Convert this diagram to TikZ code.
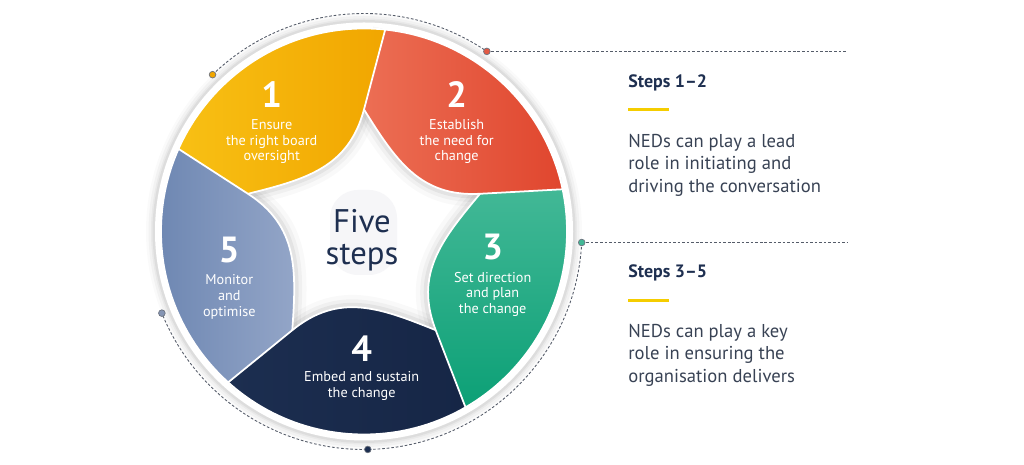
\documentclass[tikz,border=0pt]{standalone}
\usepackage{fontspec}
\setmainfont{PT Sans}
\usetikzlibrary{calc}
\definecolor{navy}{RGB}{30,47,80}
\definecolor{bodytxt}{RGB}{56,66,84}
\definecolor{yelA}{RGB}{248,192,20}
\definecolor{yelB}{RGB}{241,166,0}
\definecolor{redA}{RGB}{236,110,84}
\definecolor{redB}{RGB}{224,70,46}
\definecolor{grnA}{RGB}{66,184,150}
\definecolor{grnB}{RGB}{12,160,118}
\definecolor{navA}{RGB}{28,46,80}
\definecolor{navB}{RGB}{22,38,70}
\definecolor{bluA}{RGB}{106,132,176}
\definecolor{bluB}{RGB}{148,166,200}
\definecolor{dashgrey}{RGB}{85,92,105}
\definecolor{accent}{RGB}{245,205,0}
\definecolor{centergrey}{RGB}{246,246,248}
\begin{document}
\begin{tikzpicture}[x=0.02cm,y=0.02cm,
  dashline/.style={draw=dashgrey, line width=0.5pt, dash pattern=on 1.5pt off 1.1pt},
  dotnode/.style={circle, draw=dashgrey!85, line width=0.4pt, minimum size=3.8pt, inner sep=0pt},
  num/.style={text=white, font=\fontsize{20.7}{22}\selectfont\bfseries, inner sep=0pt},
  ptxt/.style={text=white, align=center, font=\fontsize{8.1}{8.9}\selectfont, inner sep=0pt},
  ttl/.style={text=navy, anchor=west, font=\fontsize{10.2}{12}\selectfont\bfseries, inner sep=0pt},
  body/.style={text=bodytxt, anchor=west, align=left, font=\fontsize{10.6}{12.8}\selectfont, inner sep=0pt},
  accentline/.style={draw=accent, line width=1.7pt},
  sep/.style={draw=white, line width=1pt, line join=round}]

\useasboundingbox (0,0) rectangle (1024,465);
\coordinate (O) at (364,233.5);

% ring shadow and white ring
\foreach \r/\o in {218/0.02, 215.5/0.03, 213/0.04, 211.5/0.05}{
  \fill[black, opacity=\o] (O) circle[radius=\r];
}
\fill[white] (O) circle[radius=209];

% faint centre panel
\fill[centergrey, rounded corners=16pt] (330,190) rectangle (397,275);

\begin{scope}[shift={(O)}]
  % soft shadows along inner petal edges
  \foreach \t in {84,12,-60,-132,-204}{
    \foreach \w/\o in {14/0.025, 9/0.035, 5/0.05}{
      \draw[black, opacity=\o, line width=\w pt] (\t:203) -- ({\t+6}:122)
        .. controls ({\t+19.6}:65.8) and ({\t+53.9}:77.9) .. ({\t+78}:122);
    }
  }
  % petals
  \shade[left color=yelA, right color=yelB] (84:203) -- (90:122)
    .. controls (103.6:65.8) and (137.9:77.9) .. (162:122) -- (156:203)
    arc[start angle=156, end angle=84, radius=203] -- cycle;
  \shade[left color=redA, right color=redB] (12:203) -- (18:122)
    .. controls (31.6:65.8) and (65.9:77.9) .. (90:122) -- (84:203)
    arc[start angle=84, end angle=12, radius=203] -- cycle;
  \shade[top color=grnA, bottom color=grnB] (-60:203) -- (-54:122)
    .. controls (-40.4:65.8) and (-6.1:77.9) .. (18:122) -- (12:203)
    arc[start angle=12, end angle=-60, radius=203] -- cycle;
  \shade[left color=navA, right color=navB] (-132:203) -- (-126:122)
    .. controls (-112.4:65.8) and (-78.1:77.9) .. (-54:122) -- (-60:203)
    arc[start angle=-60, end angle=-132, radius=203] -- cycle;
  \shade[left color=bluA, right color=bluB] (-204:203) -- (-198:122)
    .. controls (-184.4:65.8) and (-150.1:77.9) .. (-126:122) -- (-132:203)
    arc[start angle=-132, end angle=-204, radius=203] -- cycle;
  % white separators
  \foreach \t in {84,12,-60,-132,-204}{
    \draw[sep] (\t:203) -- ({\t+6}:122)
      .. controls ({\t+19.6}:65.8) and ({\t+53.9}:77.9) .. ({\t+78}:122);
  }
  \draw[sep] (0,0) circle[radius=203];
\end{scope}

% dashed orbit arcs and connector lines
\coordinate (p1) at ($(O)+(134:218)$);
\coordinate (p2) at ($(O)+(55.7:218)$);
\coordinate (p3) at ($(O)+(-2.9:218)$);
\coordinate (p4) at ($(O)+(-89:218)$);
\coordinate (p5) at ($(O)+(-158:218)$);
\coordinate (e1) at (847,0);
\draw[dashline] (p1) arc[start angle=134, end angle=55.7, radius=218];
\draw[dashline] (p3) arc[start angle=-2.9, end angle=-158, radius=218];
\draw[dashline] (p2) -- (p2 -| e1);
\draw[dashline] (p3) -- (p3 -| e1);
\node[dotnode, fill=yelB] (d1) at (p1) {};
\node[dotnode, fill=redB!90] (d2) at (p2) {};
\node[dotnode, fill=grnA] (d3) at (p3) {};
\node[dotnode, fill=navA] (d4) at (p4) {};
\node[dotnode, fill=bluB!90!black] (d5) at (p5) {};

% petal labels
\node[num] (n1) at (271.7,370) {1};
\node[ptxt] (t1) at (271.7,323.3) {Ensure\\the right board\\oversight};
\node[num] (n2) at (456.7,370) {2};
\node[ptxt] (t2) at (456.7,323.3) {Establish\\the need for\\change};
\node[num] (n3) at (492.7,218.3) {3};
\node[ptxt] (t3) at (492.7,170.8) {Set direction\\and plan\\the change};
\node[num] (n4) at (361.7,116.7) {4};
\node[ptxt] (t4) at (361.7,78.8) {Embed and sustain\\the change};
\node[num] (n5) at (229.3,215) {5};
\node[ptxt] (t5) at (229.3,168.1) {Monitor\\and\\optimise};

% centre title
\node[text=navy, align=center, inner sep=0pt,
  font=\fontsize{18.6}{18}\selectfont] (centre) at (362,225) {Five\\steps};

% right panel
\node[ttl] (s1) at (628,382.5) {Steps 1–2};
\coordinate (a1) at (628,355);
\coordinate (b1) at (669,355);
\draw[accentline] (a1) -- (b1);
\node[body] (q1) at (628,299.7) {NEDs can play a lead\\role in initiating and\\driving the conversation};
\node[ttl] (s2) at (628,192.5) {Steps 3–5};
\coordinate (a2) at (628,164.3);
\coordinate (b2) at (669,164.3);
\draw[accentline] (a2) -- (b2);
\node[body] (q2) at (628,110) {NEDs can play a key\\role in ensuring the\\organisation delivers};
\end{tikzpicture}
\end{document}
